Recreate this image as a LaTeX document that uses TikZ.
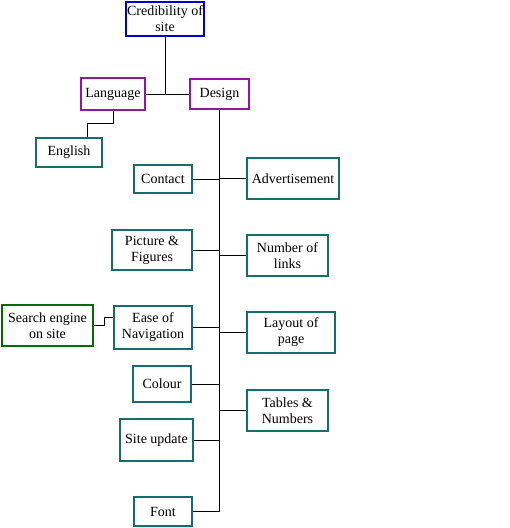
\documentclass[tikz,border=0pt]{standalone}
\usepackage{fontspec}
\setmainfont{Liberation Serif}
\definecolor{credblue}{RGB}{0,0,200}
\definecolor{catpurple}{RGB}{150,20,165}
\definecolor{itemteal}{RGB}{20,110,110}
\definecolor{subgreen}{RGB}{0,110,0}
\begin{document}
\begin{tikzpicture}[x=1pt,y=-1pt,every node/.style={font=\fontsize{14}{16}\selectfont,align=center,inner sep=1pt},box/.style={draw,line width=2pt},rootbox/.style={box,draw=credblue},catbox/.style={box,draw=catpurple},itembox/.style={box,draw=itemteal},subbox/.style={box,draw=subgreen},link/.style={line width=0.8pt}]
\useasboundingbox (0,0) rectangle (510,528);
\node[rootbox,minimum width=74,minimum height=34] (cred) at (165,19) {Credibility of\\site};
\node[catbox,minimum width=64,minimum height=32] (lang) at (113,94) {Language};\node[catbox,minimum width=59,minimum height=30] (design) at (219.5,94) {Design};
\node[itembox,minimum width=66,minimum height=29] (english) at (69,152.5) {English};
\node[itembox,minimum width=58,minimum height=28] (contact) at (163,179) {Contact};\node[itembox,minimum width=92,minimum height=41] (advert) at (293,178.5) {Advertisement};
\node[itembox,minimum width=80,minimum height=40] (picture) at (152,250) {Picture \&\\Figures};\node[itembox,minimum width=81,minimum height=41] (links) at (287.5,255.5) {Number of\\links};
\node[subbox,minimum width=91,minimum height=41] (search) at (47.5,325.5) {Search engine\\on site};
\node[itembox,minimum width=78,minimum height=43] (ease) at (153,327.5) {Ease of\\Navigation};\node[itembox,minimum width=88,minimum height=41] (layout) at (291,332.5) {Layout of\\page};
\node[itembox,minimum width=58,minimum height=36] (colour) at (162,384) {Colour};\node[itembox,minimum width=81,minimum height=41] (tables) at (287.5,410.5) {Tables \&\\Numbers};
\node[itembox,minimum width=73,minimum height=42] (update) at (156.5,440) {Site update};
\node[itembox,minimum width=58,minimum height=29] (font) at (163,511.5) {Font};
\draw[link] (cred.south) -- (cred.south |- lang.east);\draw[link] (lang.east) -- (design.west);
\draw[link] (lang.south) -- ++(0,12) -| ([xshift=18]english.north);
\draw[link] (design.south) |- (font.east);
\foreach \n in {contact,picture,ease,colour,update} \draw[link] (\n.east) -- (\n.east -| design.south);
\foreach \n in {advert,links,layout,tables} \draw[link] (\n.west) -- (\n.west -| design.south);
\draw[link] (search.east) -- ++(10,0) |- ([yshift=10.5]ease.west);
\end{tikzpicture}
\end{document}
